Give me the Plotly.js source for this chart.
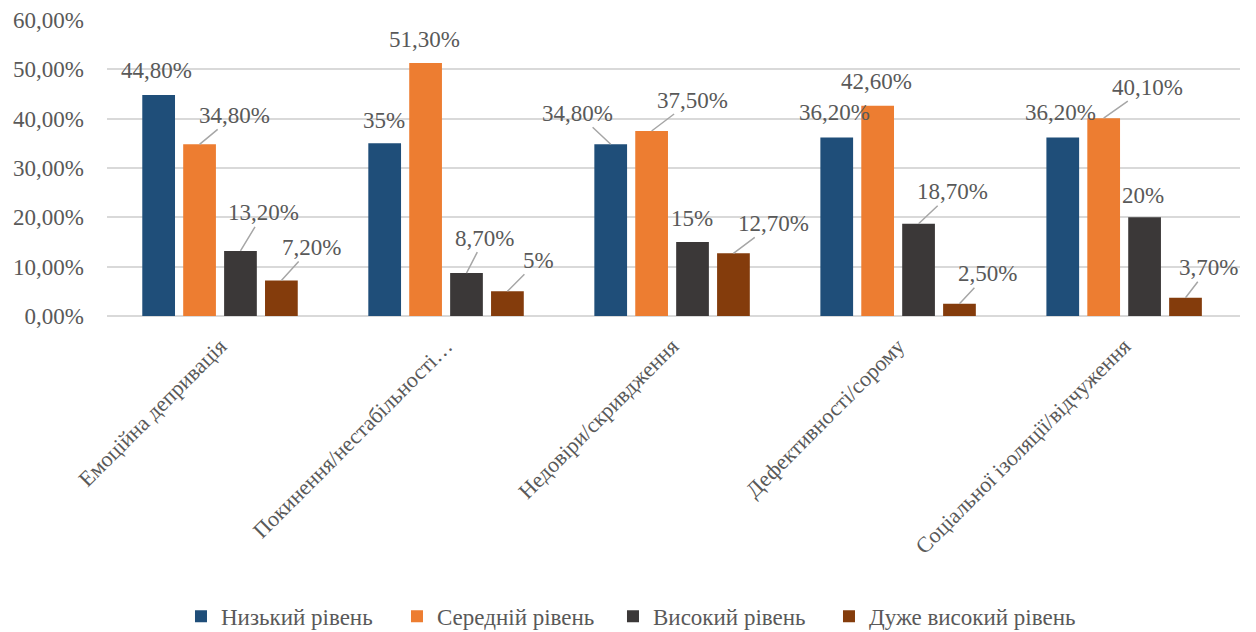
<!DOCTYPE html>
<html>
<head>
<meta charset="utf-8">
<script src="https://cdn.plot.ly/plotly-3.0.1.min.js"></script>
<style>
  #chart text { font-family: 'Liberation Serif', serif !important; }
</style>
</head>
<body style="margin:0">
<div id="chart"></div>
<script>
// Categories (early maladaptive schemas) and level shares
const categories = [
  'Емоційна депривація',
  'Покинення/нестабільності…',
  'Недовіри/скривдження',
  'Дефективності/сорому',
  'Соціальної ізоляції/відчуження'
];
const seriesNames = ['Низький рівень', 'Середній рівень', 'Високий рівень', 'Дуже високий рівень'];
const lowLevel      = [0.448, 0.350, 0.348, 0.362, 0.362];
const midLevel      = [0.348, 0.513, 0.375, 0.426, 0.401];
const highLevel     = [0.132, 0.087, 0.150, 0.187, 0.200];
const veryHighLevel = [0.072, 0.050, 0.127, 0.025, 0.037];
const yTickValues   = [0, 0.1, 0.2, 0.3, 0.4, 0.5, 0.6];

const seriesValues = [lowLevel, midLevel, highLevel, veryHighLevel];
const colors = ['#1F4E79', '#ED7D31', '#3B3838', '#843C0C'];
const legendWidths = [171, 171, 171, 240];

// Label placement: pixel offset of each label from the top of its bar,
// and whether a leader line connects them.
const labelDx = [
  [-2, -1, -33, -2, -2],
  [35, -1, 41, -1, 44],
  [23, 18, -1, 34, -2],
  [30, 31, 40, 28, 23]
];
const labelDy = [
  [-24, -23, -31, -25, -25],
  [-29, -23, -31, -24, -31],
  [-38, -35, -24, -32, -22],
  [-33, -31, -30, -30, -30]
];
const leader = [
  [false, false, true, false, false],
  [true, false, true, false, true],
  [true, true, false, true, false],
  [true, true, true, true, true]
];

const textColor = '#595959';
const serifFamily = 'Liberation Serif';

const bargap = 0.276;
const nSeries = seriesValues.length;
const slot = (1 - bargap) / nSeries;

function pctLabel(v) {
  const p = Math.round(v * 10000) / 100;
  if (Math.abs(p - Math.round(p)) < 1e-9) return Math.round(p) + '%';
  return p.toFixed(2).replace('.', ',') + '%';
}

function draw() {
  const traces = seriesValues.map((vals, i) => ({
    type: 'bar',
    name: seriesNames[i],
    x: categories,
    y: vals,
    marker: { color: colors[i], line: { width: 0 } },
    legendwidth: legendWidths[i],
    hoverinfo: 'skip'
  }));

  const annotations = [];
  seriesValues.forEach((vals, i) => {
    const off = -(1 - bargap) / 2 + (i + 0.5) * slot;
    vals.forEach((v, j) => {
      const a = {
        x: j + off,
        y: v,
        xref: 'x',
        yref: 'y',
        text: pctLabel(v),
        font: { family: serifFamily, size: 23, color: textColor },
        showarrow: leader[i][j],
        xanchor: 'center',
        yanchor: 'middle'
      };
      if (leader[i][j]) {
        Object.assign(a, {
          ax: labelDx[i][j],
          ay: labelDy[i][j],
          axref: 'pixel',
          ayref: 'pixel',
          arrowhead: 0,
          arrowwidth: 1.5,
          arrowcolor: '#A6A6A6',
          standoff: 0,
          startstandoff: 0
        });
      } else {
        Object.assign(a, { xshift: labelDx[i][j], yshift: -labelDy[i][j] });
      }
      annotations.push(a);
    });
  });

  const layout = {
    width: 1256,
    height: 632,
    margin: { l: 107, r: 16, t: 20, b: 316 },
    paper_bgcolor: '#ffffff',
    plot_bgcolor: '#ffffff',
    separators: ', ',
    font: { family: serifFamily, color: textColor, size: 22 },
    barmode: 'group',
    bargap: bargap,
    bargroupgap: 0.2,
    showlegend: true,
    legend: {
      orientation: 'h',
      xref: 'container',
      yref: 'container',
      x: 0.1441,
      xanchor: 'left',
      y: 0.025,
      yanchor: 'middle',
      font: { family: serifFamily, size: 23, color: textColor },
      itemwidth: 30,
      entrywidthmode: 'pixels',
      traceorder: 'normal'
    },
    xaxis: {
      type: 'category',
      tickangle: -45,
      showgrid: false,
      showline: false,
      zeroline: false,
      ticks: '',
      ticklabelstandoff: 12,
      tickfont: { family: serifFamily, size: 22, color: textColor },
      fixedrange: true
    },
    yaxis: {
      range: [0, 0.6],
      tickvals: yTickValues,
      tickformat: '.2%',
      showgrid: true,
      gridcolor: '#D9D9D9',
      gridwidth: 1.5,
      zeroline: true,
      zerolinecolor: '#D9D9D9',
      zerolinewidth: 1.5,
      showline: false,
      ticks: '',
      ticklabelstandoff: 22,
      tickfont: { family: serifFamily, size: 23, color: textColor },
      fixedrange: true
    },
    annotations: annotations
  };

  Plotly.newPlot('chart', traces, layout, { displayModeBar: false });
}

draw();
if (document.fonts && document.fonts.ready) {
  document.fonts.ready.then(draw, function () {});
}
</script>
</body>
</html>
